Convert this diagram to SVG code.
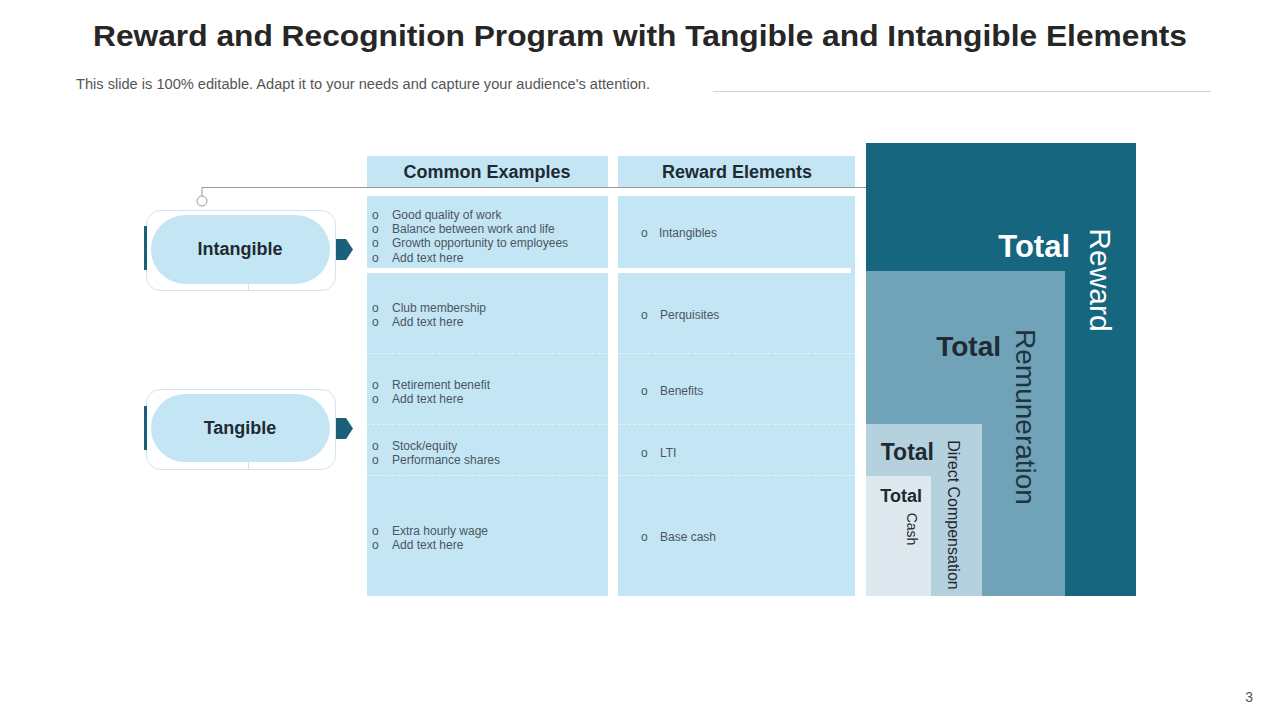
<svg xmlns="http://www.w3.org/2000/svg" width="1280" height="720" viewBox="0 0 1280 720">
<style>
.title{font-family:"Liberation Sans",Arial,sans-serif;font-weight:bold;font-size:30px;fill:#262626}
.sub{font-family:"Liberation Sans",Arial,sans-serif;font-size:14px;fill:#555}
.hdr{font-family:"Liberation Sans",Arial,sans-serif;font-weight:bold;font-size:18px;fill:#1f2a33}
.item{font-family:"Liberation Sans",Arial,sans-serif;font-size:12px;fill:#4a5560}
.cell{fill:#C4E6F4}
.pill{fill:#C4E6F4}
.outer{fill:none;stroke:#cfe4ee;stroke-width:1}
.bar{fill:#1b6079}
.node{font-family:"Liberation Sans",Arial,sans-serif;font-weight:bold;font-size:18px;fill:#1f2a33}
.big{font-family:"Liberation Sans",Arial,sans-serif;font-weight:bold}
.rot{font-family:"Liberation Sans",Arial,sans-serif}
.div{stroke:#e2f2f9;stroke-width:1;stroke-dasharray:3 2}
</style>
<text class="title" x="640" y="46" text-anchor="middle" textLength="1094" lengthAdjust="spacingAndGlyphs">Reward and Recognition Program with Tangible and Intangible Elements</text>
<text class="sub" x="76" y="89" textLength="574" lengthAdjust="spacingAndGlyphs">This slide is 100% editable. Adapt it to your needs and capture your audience's attention.</text>
<line x1="713" y1="91.5" x2="1211" y2="91.5" stroke="#d0d0d0" stroke-width="1"/>
<text class="sub" x="1253" y="702" text-anchor="end">3</text>

<g id="table">
<rect class="cell" x="367" y="156" width="241" height="31"/>
<rect class="cell" x="618" y="156" width="237" height="31"/>
<text class="hdr" x="487" y="178" text-anchor="middle">Common Examples</text>
<text class="hdr" x="737" y="178" text-anchor="middle">Reward Elements</text>
<rect class="cell" x="367" y="196" width="241" height="400"/>
<rect class="cell" x="618" y="196" width="237" height="400"/>
<rect x="367" y="268" width="241" height="5" fill="#ffffff"/>
<rect x="618" y="268" width="233" height="5" fill="#ffffff"/>
<line class="div" x1="367" y1="353.5" x2="608" y2="353.5"/>
<line class="div" x1="618" y1="353.5" x2="855" y2="353.5"/>
<line class="div" x1="367" y1="424.5" x2="608" y2="424.5"/>
<line class="div" x1="618" y1="424.5" x2="855" y2="424.5"/>
<line class="div" x1="367" y1="475.5" x2="608" y2="475.5"/>
<line class="div" x1="618" y1="475.5" x2="855" y2="475.5"/>
<g class="item">
<text x="372" y="219">o</text><text x="392" y="219">Good quality of work</text>
<text x="372" y="233">o</text><text x="392" y="233">Balance between work and life</text>
<text x="372" y="247">o</text><text x="392" y="247">Growth opportunity to employees</text>
<text x="372" y="262">o</text><text x="392" y="262">Add text here</text>
<text x="372" y="312">o</text><text x="392" y="312">Club membership</text>
<text x="372" y="326">o</text><text x="392" y="326">Add text here</text>
<text x="372" y="389">o</text><text x="392" y="389">Retirement benefit</text>
<text x="372" y="403">o</text><text x="392" y="403">Add text here</text>
<text x="372" y="450">o</text><text x="392" y="450">Stock/equity</text>
<text x="372" y="464">o</text><text x="392" y="464">Performance shares</text>
<text x="372" y="535">o</text><text x="392" y="535">Extra hourly wage</text>
<text x="372" y="549">o</text><text x="392" y="549">Add text here</text>
<text x="641" y="237">o</text><text x="659" y="237">Intangibles</text>
<text x="641" y="319">o</text><text x="660" y="319">Perquisites</text>
<text x="641" y="395">o</text><text x="660" y="395">Benefits</text>
<text x="641" y="457">o</text><text x="660" y="457">LTI</text>
<text x="641" y="541">o</text><text x="660" y="541">Base cash</text>
</g>
</g>

<g id="connectors">
<polyline points="202,196 202,187.5 866,187.5" fill="none" stroke="#9a9a9a" stroke-width="1"/>
<circle cx="202" cy="201" r="5" fill="#ffffff" stroke="#9a9a9a" stroke-width="1"/>
</g>

<g id="node-intangible">
<rect class="outer" x="146.5" y="210.5" width="189" height="80" rx="14"/>
<line x1="248.5" y1="284" x2="248.5" y2="291" stroke="#cfe4ee"/>
<rect class="pill" x="151" y="215" width="179" height="69" rx="34.5"/>
<rect class="bar" x="144" y="226" width="3" height="44"/>
<polygon class="bar" points="336,239 346,239 353,249.5 346,260 336,260"/>
<text class="node" x="240" y="255" text-anchor="middle">Intangible</text>
</g>

<g id="node-tangible">
<rect class="outer" x="146.5" y="389.5" width="189" height="80" rx="14"/>
<line x1="248.5" y1="462" x2="248.5" y2="470" stroke="#cfe4ee"/>
<rect class="pill" x="151" y="394" width="179" height="68" rx="34"/>
<rect class="bar" x="144" y="406" width="3" height="44"/>
<polygon class="bar" points="336,418 346,418 353,428.5 346,439 336,439"/>
<text class="node" x="240" y="434" text-anchor="middle">Tangible</text>
</g>

<g id="total-reward">
<rect x="866" y="143" width="270" height="453" fill="#16667F"/>
<text class="big" x="1070" y="257" text-anchor="end" font-size="31" fill="#ffffff">Total</text>
<text class="rot" transform="translate(1090,280) rotate(90)" text-anchor="middle" font-size="30" fill="#ffffff">Reward</text>
</g>
<g id="total-remuneration">
<rect x="866" y="271" width="199" height="325" fill="#70A3B8"/>
<text class="big" x="1001" y="356" text-anchor="end" font-size="28" fill="#1f2a33">Total</text>
<text class="rot" transform="translate(1016,417) rotate(90)" text-anchor="middle" font-size="28" fill="#1f3340">Remuneration</text>
</g>
<g id="total-direct">
<rect x="866" y="424" width="116" height="172" fill="#B5D1DD"/>
<text class="big" x="934" y="460" text-anchor="end" font-size="23" fill="#1f2a33">Total</text>
<text class="rot" transform="translate(948,515) rotate(90)" text-anchor="middle" font-size="16" fill="#1f2a33">Direct Compensation</text>
</g>
<g id="total-cash">
<rect x="866" y="476" width="65" height="120" fill="#DDE9EF"/>
<text class="big" x="922" y="502" text-anchor="end" font-size="18" fill="#1f2a33">Total</text>
<text class="rot" transform="translate(907,529) rotate(90)" text-anchor="middle" font-size="14" fill="#1f2a33">Cash</text>
</g>
</svg>
